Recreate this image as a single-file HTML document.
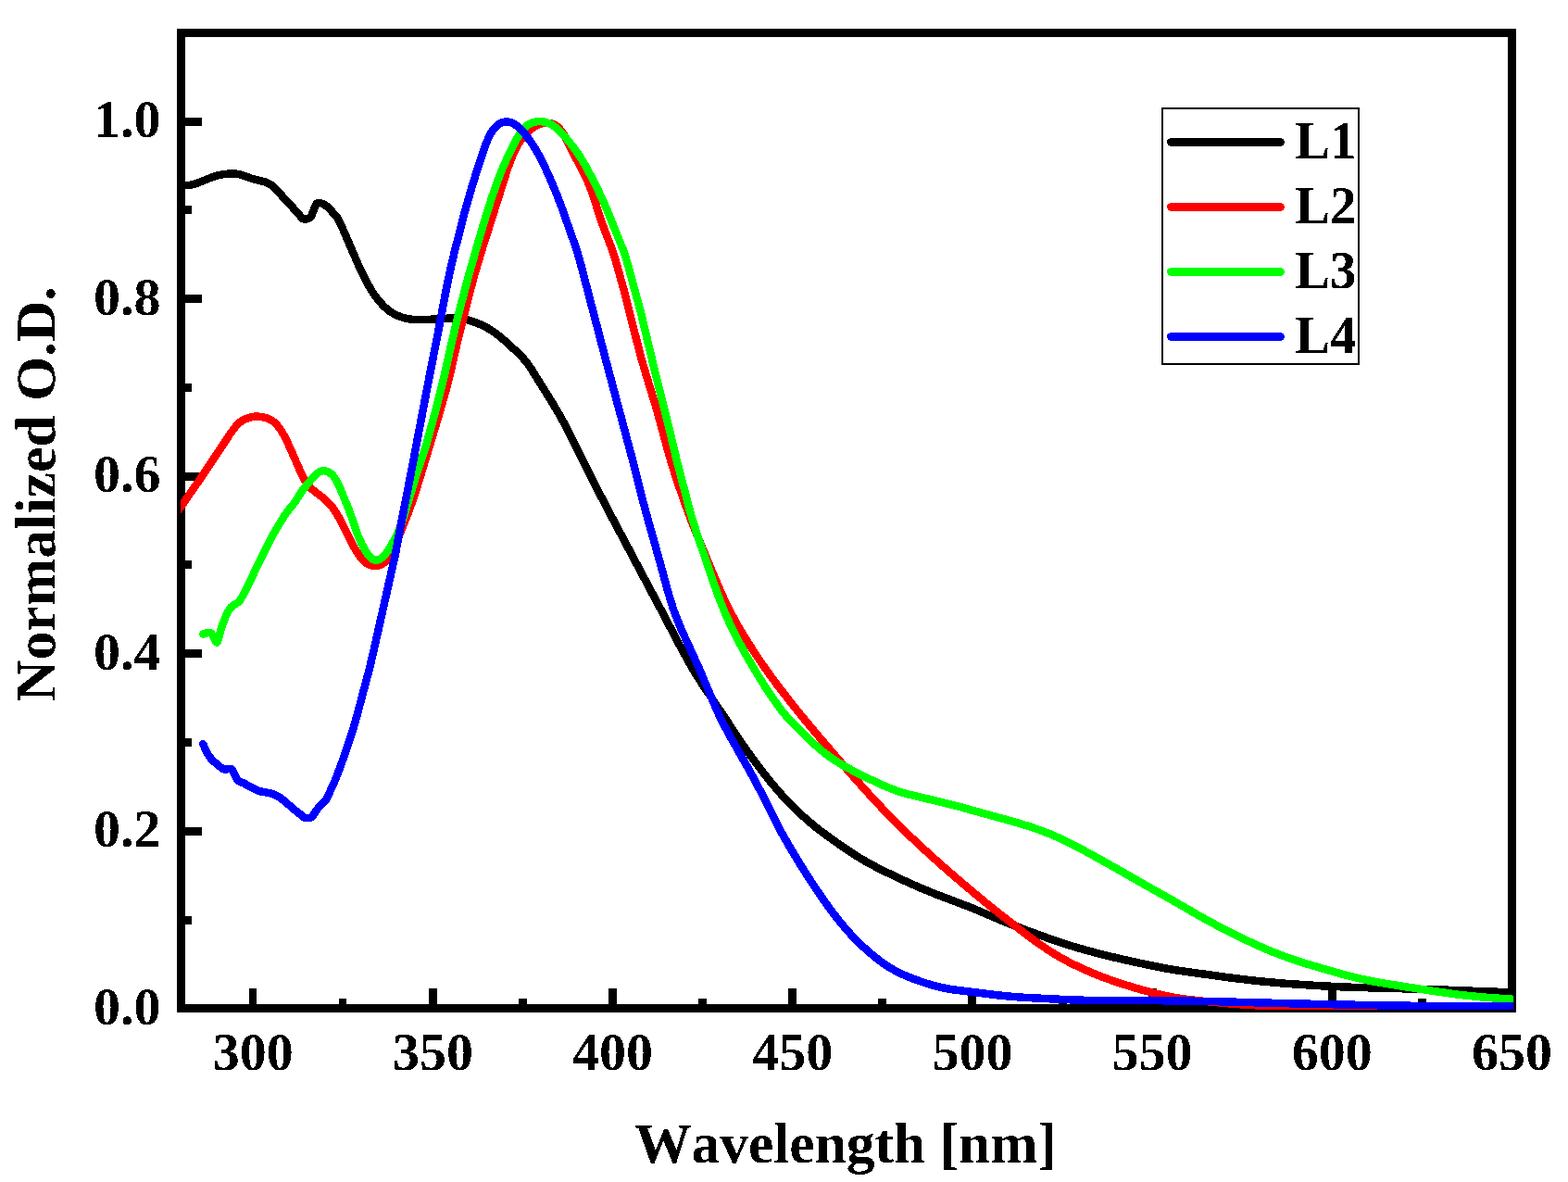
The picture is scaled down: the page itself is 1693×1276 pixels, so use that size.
<!DOCTYPE html>
<html lang="en"><head><meta charset="utf-8"><title>Normalized O.D. vs Wavelength</title>
<style>html,body{margin:0;padding:0;background:#fff}body{width:1693px;height:1276px;overflow:hidden}svg{display:block}text{filter:url(#bw);font-family:"Liberation Serif",serif;font-weight:bold;fill:#000;font-kerning:none;font-variant-ligatures:none}.tk{font-size:58px}.lb{font-size:61.5px}.lg{font-size:57px}.c{fill:none;stroke-width:8.5;stroke-linejoin:round;stroke-linecap:round}</style></head><body>
<svg width="1693" height="1276" viewBox="0 0 1693 1276">
<rect x="0" y="0" width="1693" height="1276" fill="#fff"/>
<defs><filter id="bw" x="-5%" y="-5%" width="110%" height="110%" color-interpolation-filters="sRGB"><feComponentTransfer><feFuncA type="discrete" tableValues="0 1"/></feComponentTransfer></filter><clipPath id="cp"><rect x="195" y="31" width="1439.2" height="1059"/></clipPath></defs>
<g shape-rendering="crispEdges" fill="#000">
<rect x="191" y="31" width="1446" height="9"/>
<rect x="191" y="1084" width="1446" height="9"/>
<rect x="191" y="31" width="9" height="1062"/>
<rect x="1628" y="31" width="9" height="1062"/>
<rect x="200" y="989" width="7" height="9"/>
<rect x="200" y="893" width="18" height="9"/>
<rect x="200" y="797" width="7" height="9"/>
<rect x="200" y="701" width="18" height="9"/>
<rect x="200" y="605" width="7" height="9"/>
<rect x="200" y="510" width="18" height="9"/>
<rect x="200" y="414" width="7" height="9"/>
<rect x="200" y="318" width="18" height="9"/>
<rect x="200" y="222" width="7" height="9"/>
<rect x="200" y="127" width="18" height="9"/>
<rect x="269" y="1067" width="8" height="17"/>
<rect x="366" y="1078" width="8" height="6"/>
<rect x="463" y="1067" width="9" height="17"/>
<rect x="560" y="1078" width="9" height="6"/>
<rect x="657" y="1067" width="9" height="17"/>
<rect x="754" y="1078" width="9" height="6"/>
<rect x="851" y="1067" width="9" height="17"/>
<rect x="948" y="1078" width="9" height="6"/>
<rect x="1045" y="1067" width="9" height="17"/>
<rect x="1143" y="1078" width="9" height="6"/>
<rect x="1240" y="1067" width="9" height="17"/>
<rect x="1337" y="1078" width="9" height="6"/>
<rect x="1434" y="1067" width="9" height="17"/>
<rect x="1531" y="1078" width="9" height="6"/>
</g>
<g class="tk">
<text x="173.4" y="1105.5" text-anchor="end">0.0</text>
<text x="173.4" y="914.0" text-anchor="end">0.2</text>
<text x="173.4" y="722.6" text-anchor="end">0.4</text>
<text x="173.4" y="531.1" text-anchor="end">0.6</text>
<text x="173.4" y="339.7" text-anchor="end">0.8</text>
<text x="173.4" y="148.2" text-anchor="end">1.0</text>
<text x="273.2" y="1155" text-anchor="middle">300</text>
<text x="467.4" y="1155" text-anchor="middle">350</text>
<text x="661.6" y="1155" text-anchor="middle">400</text>
<text x="855.7" y="1155" text-anchor="middle">450</text>
<text x="1049.9" y="1155" text-anchor="middle">500</text>
<text x="1244.1" y="1155" text-anchor="middle">550</text>
<text x="1438.3" y="1155" text-anchor="middle">600</text>
<text x="1632.5" y="1155" text-anchor="middle">650</text>
</g>
<text class="lb" x="913" y="1255" text-anchor="middle">Wavelength [nm]</text>
<text class="lb" style="font-size:61.8px" transform="translate(59.4 533.2) rotate(-90)" text-anchor="middle">Normalized O.D.</text>
<g clip-path="url(#cp)" shape-rendering="crispEdges">
<path class="c" stroke="#000" d="M193.0 200.2L202.7 200.0L205.8 199.7L208.9 199.0L213.6 197.5L229.3 191.2L233.5 189.8L238.2 188.7L243.1 187.9L248.1 187.5L251.5 187.4L254.9 187.6L258.2 188.2L261.3 189.0L271.8 192.8L284.5 195.9L288.0 197.1L292.0 199.2L294.6 201.1L297.0 203.5L313.5 221.1L325.6 234.8L326.6 235.9L328.0 236.5L329.5 236.6L331.4 236.4L333.2 235.9L334.7 235.0L335.6 233.9L336.4 232.4L340.7 222.0L341.5 220.5L342.5 219.5L343.9 219.0L345.6 219.1L347.3 219.6L350.4 220.9L353.1 222.9L356.8 226.5L363.9 234.7L366.2 238.6L371.7 250.6L387.3 286.8L395.5 303.6L400.7 313.0L405.0 319.5L410.2 326.1L415.6 331.7L420.0 335.5L425.7 339.1L431.5 341.7L437.5 343.6L443.5 344.7L449.7 345.1L457.3 345.1L466.5 344.7L482.9 343.7L490.8 343.6L497.0 344.1L501.7 344.7L506.0 345.7L510.8 347.1L516.7 349.4L522.3 351.9L527.5 354.8L532.8 358.1L537.8 361.8L543.9 366.9L552.8 374.9L560.6 382.3L563.9 385.7L567.2 389.4L570.1 393.1L573.5 398.1L596.2 434.5L602.6 445.3L607.9 454.8L616.8 471.7L642.4 523.2L655.9 549.4L715.7 662.1L734.9 698.7L744.1 715.5L750.5 726.4L758.4 738.8L780.8 772.0L799.2 799.9L805.7 809.3L814.0 820.7L824.3 834.4L832.1 844.2L837.9 851.1L844.1 858.2L851.3 865.9L858.9 873.4L865.6 879.9L872.4 885.9L879.6 892.0L887.1 897.8L898.3 906.0L910.9 914.8L921.3 921.8L929.3 926.8L940.4 933.1L952.7 939.5L973.9 949.6L991.7 957.6L1009.8 965.1L1048.6 979.8L1087.2 996.2L1109.2 1004.6L1129.7 1012.1L1143.3 1016.9L1155.6 1020.8L1170.1 1025.1L1185.5 1029.2L1202.9 1033.5L1221.7 1037.8L1243.8 1042.5L1259.6 1045.6L1273.7 1047.9L1327.6 1055.4L1358.1 1059.1L1388.7 1061.8L1424.9 1064.2L1456.8 1065.7L1552.1 1068.3L1636.0 1071.5"/>
<path class="c" stroke="#f00" d="M193.0 550.4L217.8 514.7L249.0 467.6L252.6 462.8L255.7 459.0L259.2 455.8L261.6 454.1L265.1 452.3L268.1 451.1L273.0 449.9L276.4 449.6L281.4 449.8L284.9 450.5L289.6 452.0L292.5 453.5L295.1 455.1L299.0 458.7L302.5 463.1L306.0 468.9L309.8 476.2L314.2 485.9L324.3 508.9L326.8 514.1L329.2 518.5L332.9 523.8L336.0 527.2L339.5 530.3L348.6 537.2L352.2 540.2L355.5 543.6L359.5 548.5L363.1 553.8L366.3 559.3L378.4 583.3L382.9 591.8L386.5 597.7L389.9 602.4L392.7 605.4L396.3 608.3L399.1 609.7L400.6 610.3L403.5 610.9L405.0 611.0L408.0 610.7L411.1 609.7L414.2 607.9L417.0 605.5L419.8 602.1L422.5 597.6L425.4 591.8L428.5 584.6L437.6 561.8L442.6 548.6L447.6 534.2L452.8 518.0L473.6 449.1L481.7 420.9L486.2 403.0L493.8 369.3L498.5 350.0L506.4 318.6L512.7 295.2L519.2 273.4L535.8 220.9L547.2 184.8L551.1 173.6L555.5 163.1L557.7 158.7L560.0 154.7L562.3 151.2L565.0 147.5L567.3 144.9L570.8 141.5L574.2 138.8L578.2 136.2L581.5 134.6L584.5 133.6L587.5 132.9L590.3 132.7L593.0 132.8L596.2 133.6L599.3 135.0L601.8 136.7L603.0 137.8L606.3 141.4L609.1 145.9L611.8 150.7L619.4 166.2L631.3 188.6L634.6 195.9L638.1 204.7L640.8 212.5L648.7 237.1L651.8 245.7L660.5 268.5L662.9 275.7L665.7 284.7L675.2 319.0L687.9 369.5L692.4 386.7L697.3 403.6L708.8 441.2L722.5 491.3L726.0 503.3L730.2 516.3L736.2 534.0L741.5 548.9L747.2 563.9L754.0 581.1L764.6 606.7L776.2 634.2L782.4 648.1L787.9 659.2L795.0 672.5L802.7 685.6L812.5 701.3L822.6 716.4L830.8 728.0L839.8 740.2L852.7 756.8L866.3 773.8L880.5 790.9L907.2 822.1L925.2 842.8L939.6 858.8L951.3 871.3L966.7 887.0L983.5 903.6L996.2 915.5L1013.9 931.5L1029.3 945.0L1050.6 963.1L1067.2 976.8L1085.1 991.0L1109.5 1009.9L1122.0 1019.0L1132.7 1026.2L1143.5 1032.8L1155.6 1039.4L1167.2 1045.0L1180.3 1050.8L1193.4 1055.9L1206.5 1060.5L1222.4 1065.5L1238.5 1070.1L1250.1 1073.1L1261.1 1075.5L1272.0 1077.5L1282.3 1078.9L1298.2 1080.7L1327.0 1083.3L1343.6 1084.6L1358.0 1085.4L1376.5 1086.0L1401.1 1086.3L1636.0 1088.0"/>
<path class="c" stroke="#0f0" d="M219.3 684.6L223.6 683.1L225.3 682.8L226.7 682.8L227.9 683.5L228.8 684.7L230.5 687.5L233.4 693.4L234.3 693.5L234.8 693.0L235.7 690.2L238.1 681.0L239.7 676.0L243.1 666.9L245.6 661.4L247.5 658.1L249.5 655.5L250.9 654.2L256.6 650.6L257.9 649.6L259.0 648.3L262.5 642.5L265.6 636.8L274.1 618.8L291.3 583.6L294.2 578.1L297.6 572.3L307.9 555.4L310.6 551.8L318.4 542.3L324.2 532.8L326.0 530.1L338.2 515.0L341.9 511.5L344.8 509.4L346.1 508.8L347.7 508.3L350.5 508.2L353.1 508.8L354.6 509.5L357.5 511.5L359.6 513.5L361.5 516.1L363.4 519.2L367.6 527.9L376.0 548.5L379.4 557.7L385.2 574.6L387.9 581.5L390.3 586.7L393.5 592.7L396.6 597.8L398.8 600.7L400.2 602.2L401.5 603.3L403.9 604.5L406.1 604.8L408.7 604.2L411.6 602.7L414.0 600.6L416.3 598.0L419.4 593.7L423.2 587.4L427.0 580.6L430.2 573.5L433.5 565.0L436.6 555.6L451.0 507.8L458.1 486.8L460.6 479.0L468.1 451.5L476.0 421.0L480.0 404.4L486.8 373.7L490.7 357.2L497.7 329.1L505.5 299.5L514.1 268.9L524.3 234.5L530.9 213.7L537.3 195.2L542.3 182.5L547.2 171.5L558.5 149.0L560.9 144.9L563.6 140.9L566.0 138.2L569.6 135.2L572.3 133.5L575.3 132.3L578.4 131.4L581.5 131.0L584.5 131.1L588.8 131.8L593.3 133.5L596.5 135.2L600.3 138.0L605.5 142.7L610.8 148.5L617.7 157.1L623.4 164.8L628.5 172.7L632.7 179.9L637.6 189.1L645.7 205.2L651.5 217.5L656.5 229.1L672.5 268.9L675.1 276.5L677.3 283.5L691.8 336.8L704.8 391.3L722.3 461.5L730.4 495.8L745.3 553.0L748.9 564.9L753.0 577.7L769.9 627.6L776.6 646.2L782.9 662.0L787.9 672.9L793.2 683.9L798.9 694.9L805.5 707.1L812.3 718.8L818.9 729.9L826.9 742.6L834.1 753.4L843.2 766.1L847.7 771.6L851.6 776.1L856.7 781.6L863.0 787.9L879.7 803.8L887.9 810.9L895.4 816.7L903.0 821.8L911.0 826.7L923.1 833.2L938.0 840.6L952.7 847.5L962.9 851.7L971.5 854.8L980.0 857.3L1014.7 865.5L1034.5 870.5L1097.0 887.8L1110.1 891.8L1122.7 896.1L1134.6 900.7L1144.9 905.2L1160.2 912.6L1178.6 922.6L1202.8 936.1L1235.3 954.7L1263.5 970.5L1296.0 989.3L1316.2 1000.3L1335.3 1010.0L1354.7 1019.2L1370.8 1026.3L1386.7 1032.4L1398.5 1036.5L1410.2 1040.3L1442.8 1049.9L1464.7 1055.6L1474.9 1057.9L1485.5 1060.0L1502.1 1062.8L1526.3 1066.6L1556.4 1071.2L1575.4 1073.8L1599.4 1076.4L1636.0 1079.0"/>
<path class="c" stroke="#00f" d="M219.2 803.2L222.5 810.3L224.9 814.8L226.6 817.5L228.7 819.9L234.7 825.5L240.0 829.6L242.0 830.5L243.8 830.6L247.6 829.9L249.4 830.1L250.5 831.1L251.4 832.5L255.3 840.0L256.1 841.3L257.0 842.4L258.4 843.4L263.6 845.7L272.7 850.8L277.3 853.1L280.4 854.2L289.9 855.9L292.9 856.6L296.3 857.9L299.5 859.4L302.3 861.1L306.5 864.2L318.4 874.5L325.0 879.7L327.2 881.9L328.5 882.6L332.0 883.2L334.0 883.2L335.8 882.6L337.0 881.6L338.1 880.2L341.1 875.5L343.8 872.0L345.9 869.7L349.3 866.6L351.5 864.1L353.6 860.3L361.0 844.3L366.0 831.7L372.8 813.0L377.9 797.8L382.0 784.7L385.4 772.7L398.1 724.9L402.0 708.9L426.8 598.7L431.8 571.9L445.4 502.2L460.8 421.0L472.5 361.6L480.5 319.1L483.8 302.5L487.1 287.2L490.9 271.3L501.6 229.5L509.2 202.8L517.1 177.4L523.5 158.5L526.0 152.2L528.0 147.5L530.2 143.5L532.9 139.4L534.9 137.1L538.0 134.5L541.0 132.8L544.1 131.8L547.0 131.5L549.9 131.8L551.5 132.2L554.2 133.4L557.9 135.7L561.7 138.9L565.0 142.4L569.0 147.4L573.8 154.1L578.6 161.7L582.5 168.6L587.0 177.5L591.6 187.5L596.4 198.5L600.9 209.3L607.1 225.6L620.8 264.5L624.1 274.6L627.2 285.8L655.9 395.4L682.1 493.2L694.2 540.9L699.7 561.2L711.7 603.8L720.4 635.8L723.8 647.4L726.5 656.1L729.1 663.4L735.2 678.6L753.6 718.8L772.2 762.4L776.3 771.6L780.2 779.7L787.5 793.6L806.5 827.0L815.5 843.3L822.6 857.0L838.4 888.6L845.0 900.9L851.8 912.8L862.9 931.4L875.3 950.9L886.7 967.9L897.4 982.9L907.0 995.3L916.8 1006.7L925.9 1016.4L936.7 1026.4L944.9 1033.3L952.1 1038.8L958.7 1043.3L965.3 1047.2L972.3 1050.9L980.6 1054.5L989.0 1057.8L999.0 1061.2L1006.2 1063.4L1014.0 1065.4L1020.3 1066.8L1028.1 1068.2L1077.0 1074.3L1090.6 1075.7L1106.9 1076.9L1138.3 1078.5L1158.6 1079.4L1178.3 1080.0L1197.9 1080.2L1241.8 1080.1L1275.0 1080.5L1309.8 1081.1L1397.9 1083.4L1489.2 1085.3L1540.7 1086.0L1636.0 1086.6"/>
</g>
<rect x="1255" y="117" width="212" height="276" fill="#fff" stroke="#000" stroke-width="2" shape-rendering="crispEdges"/>
<line x1="1264.5" y1="153.5" x2="1382.5" y2="153.5" stroke="#000" stroke-width="9" stroke-linecap="round" shape-rendering="crispEdges"/>
<text class="lg" x="1398" y="170.7">L1</text>
<line x1="1264.5" y1="223.5" x2="1382.5" y2="223.5" stroke="#f00" stroke-width="9" stroke-linecap="round" shape-rendering="crispEdges"/>
<text class="lg" x="1398" y="240.7">L2</text>
<line x1="1264.5" y1="293.5" x2="1382.5" y2="293.5" stroke="#0f0" stroke-width="9" stroke-linecap="round" shape-rendering="crispEdges"/>
<text class="lg" x="1398" y="310.7">L3</text>
<line x1="1264.5" y1="363.5" x2="1382.5" y2="363.5" stroke="#00f" stroke-width="9" stroke-linecap="round" shape-rendering="crispEdges"/>
<text class="lg" x="1398" y="380.7">L4</text>
</svg></body></html>
